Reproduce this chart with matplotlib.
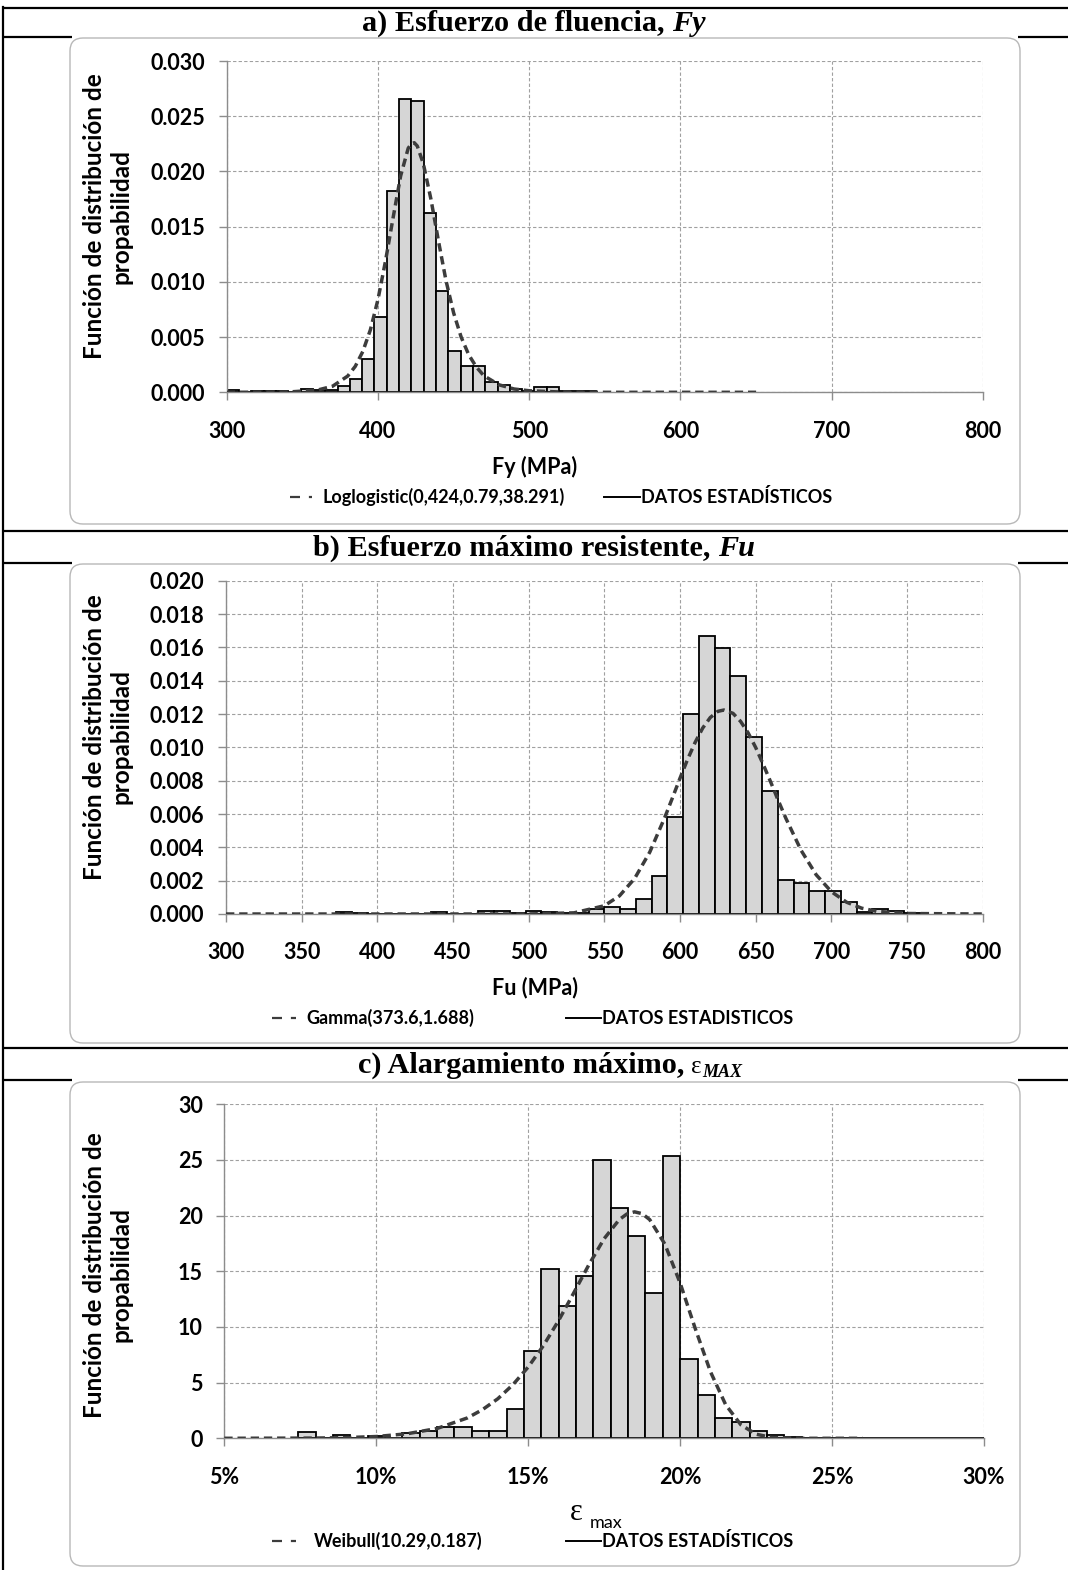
import numpy as np
import matplotlib
matplotlib.use("Agg")
import matplotlib.pyplot as plt
from matplotlib.patches import FancyBboxPatch
from matplotlib.lines import Line2D
from matplotlib.ticker import FuncFormatter

# ---------------- data ----------------
# a) Fy histogram (bins of equal width starting at 300 MPa)
fy_bin_start = 300.0
fy_bin_width = 350.0 / 43
fy_density = [0.0002, 0.0, 0.00008, 0.00008, 0.00008, 0.0, 0.0003, 0.0002, 0.0002, 0.0006,
              0.0012, 0.00305, 0.0068, 0.0182, 0.02655, 0.0264, 0.0162, 0.0092, 0.0037, 0.0024,
              0.0024, 0.00097, 0.0007, 0.0003, 0.00015, 0.00045, 0.00045, 0.0001, 0.00008, 0.00008]
fy_fit_x = [300, 340, 360, 370, 380, 385, 390, 395, 400, 405, 410, 415, 420, 422, 424, 426, 430,
            435, 440, 445, 450, 455, 460, 465, 470, 480, 490, 500, 520, 550, 600, 650]
fy_fit_y = [0.0, 0.00002, 0.0002, 0.00055, 0.00147, 0.00235, 0.0037, 0.00566, 0.0084, 0.0119,
            0.0158, 0.0196, 0.0221, 0.0225, 0.0226, 0.0223, 0.0207, 0.0175, 0.0137, 0.0101,
            0.0072, 0.0050, 0.0034, 0.0023, 0.0015, 0.00068, 0.0003, 0.00014, 0.00003, 0.0, 0.0, 0.0]

# b) Fu histogram
fu_bin_start = 300.0 + 7 * 500.0 / 48
fu_bin_width = 500.0 / 48
fu_density = [0.0001, 0.00004, 0.0, 0.0, 0.0, 0.0, 0.0001, 0.00003, 0.0, 0.00018,
              0.00018, 0.00004, 0.0002, 0.0001, 0.00004, 0.00004, 0.00032, 0.00042, 0.0003, 0.0009,
              0.00228, 0.00584, 0.01198, 0.0167, 0.01594, 0.01428, 0.0106, 0.0074, 0.00206, 0.00186,
              0.00136, 0.00136, 0.0007, 0.00012, 0.0003, 0.0002, 0.00004]
fu_fit_x = [300, 450, 500, 530, 550, 560, 570, 580, 590, 595, 600, 605, 610, 615, 620, 625, 629,
            635, 640, 645, 650, 655, 660, 665, 670, 680, 690, 700, 710, 720, 730, 750, 800]
fu_fit_y = [0.0, 0.0, 0.0000014, 0.00007, 0.000495, 0.00109, 0.00213, 0.00371, 0.00581, 0.00697,
            0.00815, 0.00928, 0.0103, 0.01116, 0.01179, 0.01216, 0.01224, 0.01204, 0.01156, 0.01087,
            0.00999, 0.00897, 0.0079, 0.00679, 0.00573, 0.00382, 0.00235, 0.00134, 0.00071, 0.00035,
            0.00016, 0.00003, 0.0]

# c) elongation histogram
ep_bin_start = 0.0743
ep_bin_width = 0.2 / 35
ep_density = [0.54, 0.0, 0.33, 0.05, 0.18, 0.05, 0.5, 0.7, 1.05, 1.05,
              0.7, 0.7, 2.66, 7.84, 15.18, 11.92, 14.61, 25.0, 20.72, 18.2,
              13.02, 25.36, 7.13, 3.92, 1.8, 1.44, 0.69, 0.33, 0.15, 0.05,
              0.0, 0.0, 0.0, 0.0, 0.0, 0.0, 0.0, 0.0, 0.0, 0.0]
ep_fit_x = [0.05, 0.08, 0.09, 0.10, 0.11, 0.12, 0.13, 0.135, 0.14, 0.145, 0.15, 0.155, 0.16,
            0.165, 0.17, 0.175, 0.18, 0.1825, 0.185, 0.1875, 0.19, 0.195, 0.20, 0.205, 0.21,
            0.215, 0.22, 0.225, 0.23, 0.24, 0.26]
ep_fit_y = [0.0, 0.02, 0.06, 0.16, 0.40, 0.88, 1.83, 2.58, 3.55, 4.82, 6.40, 8.32, 10.57,
            13.06, 15.60, 17.93, 19.65, 20.15, 20.34, 20.18, 19.64, 17.43, 13.95, 9.84, 5.97,
            3.01, 1.21, 0.37, 0.08, 0.0, 0.0]

titles = ["a) Esfuerzo de fluencia,", "b) Esfuerzo máximo resistente,", "c) Alargamiento máximo,"]
legend_fit = ["Loglogistic(0,424,0.79,38.291)", "Gamma(373.6,1.688)", "Weibull(10.29,0.187)"]
legend_data = ["DATOS ESTADÍSTICOS", "DATOS ESTADISTICOS", "DATOS ESTADÍSTICOS"]
ylabel_text = "Función de distribución de\npropabilidad"

# ---------------- figure ----------------
plt.rcParams['font.family'] = ['Lato', 'DejaVu Sans']
plt.rcParams['font.weight'] = 'bold'

W, H = 1068, 1570
fig = plt.figure(figsize=(W / 100, H / 100), dpi=100)
fig.patch.set_facecolor('white')
T = fig.dpi_scale_trans


def P(x, y):
    return (x / 100.0, (H - y) / 100.0)


def hline(y, x0, x1, lw=1.6, color='black', z=-5):
    fig.add_artist(Line2D([x0 / 100, x1 / 100], [(H - y) / 100] * 2, transform=T,
                          color=color, lw=lw, zorder=z, solid_capstyle='butt'))


# table frame
hline(8, 2, W)
for yy in [531, 1048]:
    hline(yy, 2, W)
for yy in [37, 563, 1080]:
    hline(yy, 2, 72)
    hline(yy, 1018, W)
fig.add_artist(Line2D([3 / 100, 3 / 100], [(H - 7) / 100, 0], transform=T, color='black',
                      lw=1.6, zorder=-5))

# chart boxes
boxes = [(70, 38, 1020, 524), (70, 564, 1020, 1043), (70, 1082, 1020, 1566)]
for (l, t, r, b) in boxes:
    p = FancyBboxPatch(P(l, b), (r - l) / 100, (b - t) / 100,
                       boxstyle="round,pad=0,rounding_size=0.13", transform=T,
                       facecolor='white', edgecolor='#b8b8b8', lw=1.0, zorder=-1)
    fig.add_artist(p)

renderer = fig.canvas.get_renderer()


def rich(xc, ybase, parts):
    arts = []
    total = 0
    for s, kw, dy, gap in parts:
        t = fig.text(0, 0, s, transform=T, ha='left', va='baseline', **kw)
        w = t.get_window_extent(renderer).width
        arts.append((t, dy, w, gap))
        total += w + gap
    x = xc - total / 2
    for t, dy, w, gap in arts:
        t.set_position(P(x, ybase + dy))
        x += w + gap


SER = 'Liberation Serif'
tsize = 21.8
rich(534, 31, [(titles[0], dict(family=SER, weight='bold', fontsize=tsize), 0, 7),
               ("Fy", dict(family=SER, weight='bold', style='italic', fontsize=tsize), 0, 0)])
rich(534, 556, [(titles[1], dict(family=SER, weight='bold', fontsize=tsize), 0, 7),
                ("Fu", dict(family=SER, weight='bold', style='italic', fontsize=tsize), 0, 0)])
rich(550, 1073, [(titles[2], dict(family=SER, weight='bold', fontsize=tsize), 0, 7),
                 ("ε", dict(family=SER, weight='normal', fontsize=18), 0, 1),
                 ("MAX", dict(family=SER, weight='bold', style='italic', fontsize=13), 4, 0)])


def add_axes_px(l, t, r, b):
    return fig.add_axes([l / W, 1 - b / H, (r - l) / W, (b - t) / H])


def style(ax, xticks, yticks, xfmt, yfmt):
    ax.set_xticks(xticks)
    ax.set_yticks(yticks)
    ax.xaxis.set_major_formatter(FuncFormatter(xfmt))
    ax.yaxis.set_major_formatter(FuncFormatter(yfmt))
    for s in ['top', 'right']:
        ax.spines[s].set_visible(False)
    for s in ['left', 'bottom']:
        ax.spines[s].set_color('#8c8c8c')
        ax.spines[s].set_linewidth(1.0)
    ax.tick_params(direction='out', length=5.5, width=1.0, color='#8c8c8c',
                   labelsize=15.5, labelcolor='black')
    ax.tick_params(axis='x', pad=15)
    ax.tick_params(axis='y', pad=10)
    ax.grid(True, color='#a0a0a0', linestyle=(0, (3, 2)), linewidth=0.8)
    ax.set_axisbelow(True)
    ax.set_facecolor('none')


bar_kw = dict(align='edge', color='#d6d6d6', edgecolor='black', linewidth=1.3, zorder=2)
fit_kw = dict(color='#3c3c3c', lw=2.5, linestyle=(0, (2.4, 1.4)), zorder=3)

# ---- panel a ----
axa = add_axes_px(226.7, 61, 983, 392.3)
ea = fy_bin_start + fy_bin_width * np.arange(len(fy_density))
axa.bar(ea, fy_density, width=fy_bin_width, **bar_kw)
axa.plot(fy_fit_x, fy_fit_y, **fit_kw)
axa.set_xlim(300, 800)
axa.set_ylim(0, 0.030)
style(axa, np.arange(300, 801, 100), np.arange(0, 0.0301, 0.005),
      lambda v, p: f"{v:.0f}", lambda v, p: f"{v:.3f}")

# ---- panel b ----
axb = add_axes_px(226, 580.7, 982.7, 914)
eb = fu_bin_start + fu_bin_width * np.arange(len(fu_density))
axb.bar(eb, fu_density, width=fu_bin_width, **bar_kw)
axb.plot(fu_fit_x, fu_fit_y, **fit_kw)
axb.set_xlim(300, 800)
axb.set_ylim(0, 0.020)
style(axb, np.arange(300, 801, 50), np.arange(0, 0.0201, 0.002),
      lambda v, p: f"{v:.0f}", lambda v, p: f"{v:.3f}")

# ---- panel c ----
axc = add_axes_px(224.3, 1104.3, 984, 1438.3)
ec = ep_bin_start + ep_bin_width * np.arange(len(ep_density))
axc.bar(ec, ep_density, width=ep_bin_width, **bar_kw)
axc.plot(ep_fit_x, ep_fit_y, **fit_kw)
axc.set_xlim(0.05, 0.30)
axc.set_ylim(0, 30)
style(axc, np.arange(0.05, 0.3001, 0.05), np.arange(0, 30.1, 5),
      lambda v, p: f"{v * 100:.0f}%", lambda v, p: f"{v:.0f}")

# y labels
for yc in [216, 737, 1275]:
    fig.text(*P(108, yc), ylabel_text, transform=T, rotation=90, ha='center', va='center',
             fontsize=17.5, weight='bold', linespacing=1.2, multialignment='center')

# x labels
fig.text(*P(535, 467), "Fy (MPa)", transform=T, ha='center', va='center', fontsize=15.5, weight='bold')
fig.text(*P(535, 988), "Fu (MPa)", transform=T, ha='center', va='center', fontsize=15.5, weight='bold')
fig.text(*P(576, 1512), "ε", transform=T, ha='center', va='center', fontsize=22,
         family=SER, weight='normal')
fig.text(*P(590, 1523), "max", transform=T, ha='left', va='center', fontsize=13, weight='normal')

# legends (drawn manually)
legs = [(497, 290, 312, 322, 604, 640), (1018, 272, 296, 306, 566, 601),
        (1541, 272, 296, 314, 566, 601)]
for i, (yy, d0, d1, tx, s0, s1) in enumerate(legs):
    fig.add_artist(Line2D([d0 / 100, d1 / 100], [(H - yy) / 100] * 2, transform=T,
                          color='#3c3c3c', lw=1.6, linestyle=(0, (4.5, 4))))
    fig.add_artist(Line2D([s0 / 100, s1 / 100], [(H - yy) / 100] * 2, transform=T,
                          color='black', lw=1.4))
    fig.text(*P(tx, yy), legend_fit[i], transform=T, ha='left', va='center', fontsize=13,
             weight='bold')
    fig.text(*P(s1 + 1, yy), legend_data[i], transform=T, ha='left', va='center', fontsize=13,
             weight='bold')

fig.savefig("out.png", dpi=100, facecolor='white')
